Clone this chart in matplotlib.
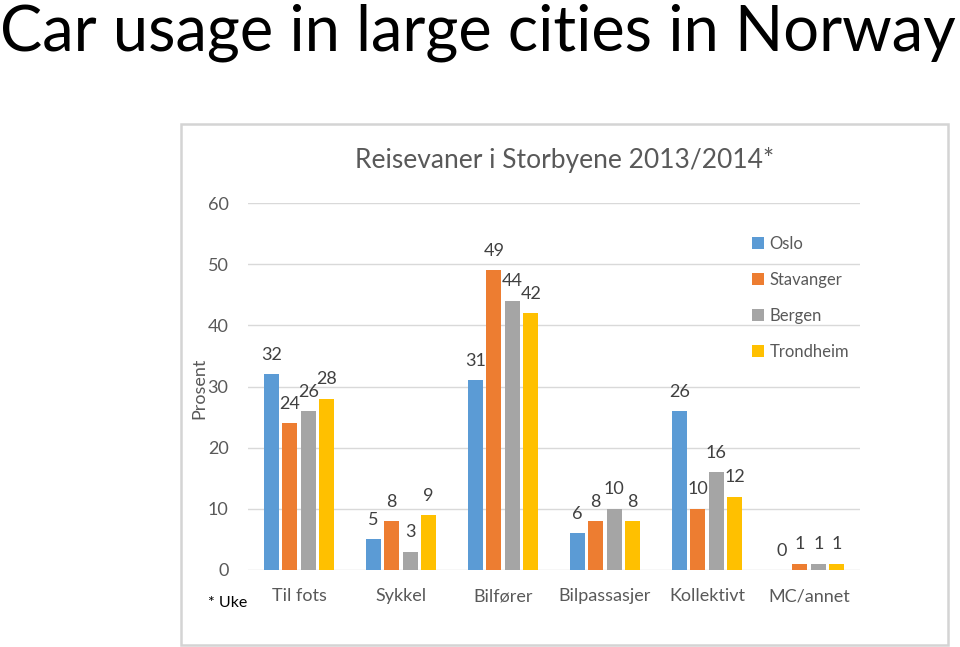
import numpy as np
import matplotlib
matplotlib.use('Agg')
import matplotlib.pyplot as plt
from matplotlib.patches import Rectangle

plt.rcParams['font.family'] = ['Lato', 'DejaVu Sans']

categories = ['Til fots', 'Sykkel', 'Bilfører', 'Bilpassasjer', 'Kollektivt', 'MC/annet']
cities = ['Oslo', 'Stavanger', 'Bergen', 'Trondheim']
oslo = [32, 5, 31, 6, 26, 0]
stavanger = [24, 8, 49, 8, 10, 1]
bergen = [26, 3, 44, 10, 16, 1]
trondheim = [28, 9, 42, 8, 12, 1]
colors = ['#5B9BD5', '#ED7D31', '#A5A5A5', '#FFC000']
yticks = [0, 10, 20, 30, 40, 50, 60]

W, H = 960, 647
fig = plt.figure(figsize=(W / 100, H / 100), dpi=100)

# slide title
fig.text(0.0, 1 - 51 / H, 'Car usage in large cities in Norway', fontsize=45.5,
         fontweight='normal', color='black', va='baseline', ha='left')

# frame of the pasted chart picture
fig.add_artist(Rectangle((181 / W, 1 - 645 / H), (948 - 181) / W, (645 - 124) / H,
                         transform=fig.transFigure, fill=False, edgecolor='#d4d4d4', lw=1.8))

ax = fig.add_axes([248 / W, 1 - 570 / H, 612 / W, (570 - 203) / H])
x = np.arange(len(categories))
step = 0.181
width = 0.147
series = [oslo, stavanger, bergen, trondheim]
for i, (vals, name, col) in enumerate(zip(series, cities, colors)):
    xs = x + (i - 1.5) * step
    ax.bar(xs, vals, width, color=col, label=name, zorder=3)
    for xx, v in zip(xs, vals):
        ax.annotate(str(v), (xx, v), xytext=(0, 14), textcoords='offset points',
                    ha='center', va='center', fontsize=13, color='#404040')

ax.set_xlim(-0.5, len(categories) - 0.5)
ax.set_ylim(0, 60)
ax.set_yticks(yticks)
ax.yaxis.grid(True, color='#d9d9d9', lw=1, zorder=0)
ax.set_axisbelow(True)
for s in ax.spines.values():
    s.set_visible(False)
ax.tick_params(axis='both', length=0, colors='#595959', labelsize=13)
ax.tick_params(axis='y', pad=14)
ax.tick_params(axis='x', pad=13)
ax.set_xticks(x)
ax.set_xticklabels(categories)

fig.text(565 / W, 1 - 160 / H, 'Reisevaner i Storbyene 2013/2014*', fontsize=19,
         color='#595959', ha='center', va='center')
fig.text(199 / W, 1 - 388 / H, 'Prosent', fontsize=13, color='#595959',
         rotation=90, ha='center', va='center')
fig.text(208 / W, 1 - 603 / H, '* Uke', fontsize=11.5, color='black', ha='left', va='center')

fig.legend(loc='upper left', bbox_to_anchor=(737 / W, 1 - 221 / H), frameon=False,
           handlelength=0.7, handleheight=0.7, handletextpad=0.35, labelspacing=1.2,
           fontsize=12, labelcolor='#595959')

fig.savefig('out.png', dpi=100)
